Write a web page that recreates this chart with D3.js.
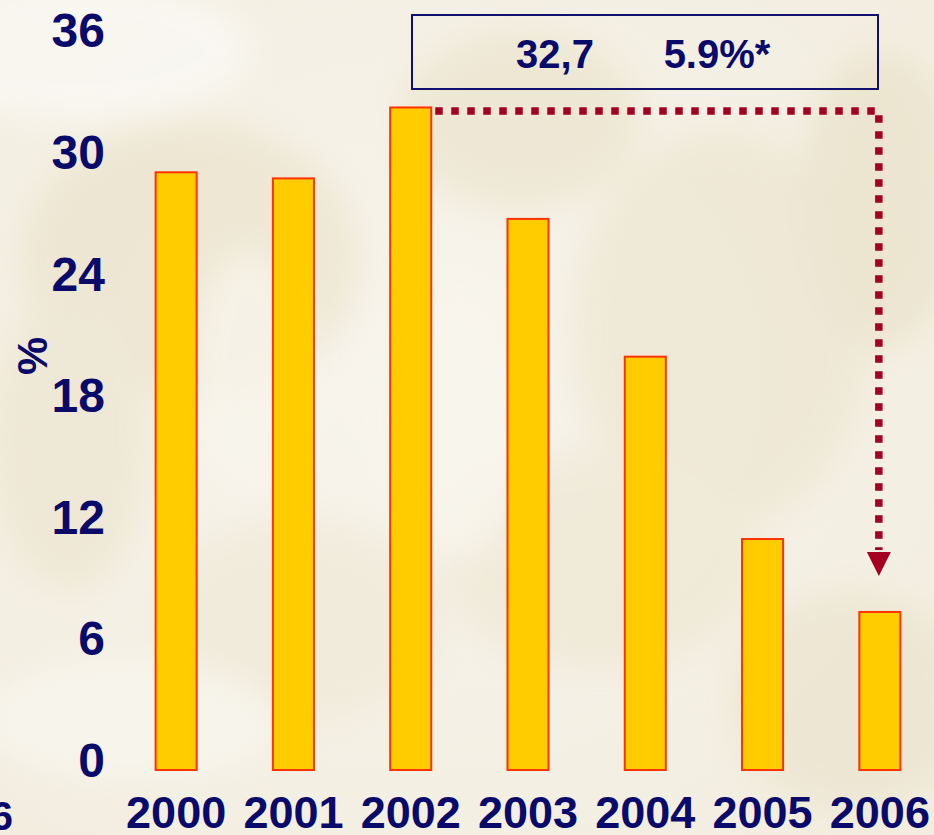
<!DOCTYPE html>
<html>
<head>
<meta charset="utf-8">
<script src="https://cdn.jsdelivr.net/npm/d3@7"></script>
<style>
  html, body { margin: 0; padding: 0; background: #F4F1E6; }
  svg { display: block; }
  text { font-family: "Liberation Sans", Arial, sans-serif; font-weight: bold; }
</style>
</head>
<body>
<svg id="chart" width="934" height="835"></svg>
<script>
// ---- data ----
const years = ["2000", "2001", "2002", "2003", "2004", "2005", "2006"];
const values = [29.5, 29.2, 32.7, 27.2, 20.4, 11.4, 7.8];
const yTicks = [0, 6, 12, 18, 24, 30, 36];
const axisTitle = "%";
const boxLabels = ["32,7", "5.9%*"];
const cornerLabel = "6";

const W = 934, H = 835;
const navy = "#0A0A6B";
const svg = d3.select("#chart");

// ---- background (soft beige texture) ----
const defs = svg.append("defs");
const blur = defs.append("filter").attr("id", "blur").attr("x", "-50%").attr("y", "-50%").attr("width", "200%").attr("height", "200%");
blur.append("feGaussianBlur").attr("stdDeviation", 16);
const rg = defs.append("radialGradient").attr("id", "bgGrad").attr("cx", "0.45").attr("cy", "0.45").attr("r", "0.75");
rg.append("stop").attr("offset", "0").attr("stop-color", "#F7F4EC");
rg.append("stop").attr("offset", "1").attr("stop-color", "#F2EDDF");
svg.append("rect").attr("width", W).attr("height", H).attr("fill", "url(#bgGrad)");

const bgG = svg.append("g").attr("filter", "url(#blur)").attr("opacity", 0.45);
const blobs = [
  {cx: 190, cy: 260, rx: 170, ry: 140, c: "#E6DCBE"},
  {cx: 70, cy: 440, rx: 80, ry: 150, c: "#E8DFC4"},
  {cx: 520, cy: 120, rx: 120, ry: 90, c: "#E6DDC0"},
  {cx: 720, cy: 330, rx: 150, ry: 200, c: "#E9E0C6"},
  {cx: 880, cy: 200, rx: 80, ry: 150, c: "#E4DABB"},
  {cx: 600, cy: 560, rx: 160, ry: 110, c: "#EAE2CA"},
  {cx: 300, cy: 620, rx: 140, ry: 100, c: "#EBE4CE"},
  {cx: 850, cy: 700, rx: 120, ry: 110, c: "#E7DEC3"}
];
bgG.selectAll("ellipse").data(blobs).join("ellipse")
  .attr("cx", d => d.cx).attr("cy", d => d.cy)
  .attr("rx", d => d.rx).attr("ry", d => d.ry)
  .attr("fill", d => d.c);
const lightG = svg.append("g").attr("filter", "url(#blur)").attr("opacity", 0.75);
const lights = [
  {cx: 80, cy: 50, rx: 170, ry: 70, c: "#FAF9F4"},
  {cx: 250, cy: 370, rx: 60, ry: 120, c: "#F8F5EC"},
  {cx: 460, cy: 420, rx: 70, ry: 140, c: "#F9F6EE"},
  {cx: 130, cy: 720, rx: 150, ry: 60, c: "#F8F6EE"}
];
lightG.selectAll("ellipse").data(lights).join("ellipse")
  .attr("cx", d => d.cx).attr("cy", d => d.cy)
  .attr("rx", d => d.rx).attr("ry", d => d.ry)
  .attr("fill", d => d.c);

// ---- scales ----
const x = d3.scaleBand().domain(years).range([117.5, 938.5]).paddingInner(0.65).paddingOuter(0.325);
const y = d3.scaleLinear().domain([0, 36]).range([770, 40.6]);

// ---- y axis (labels only) ----
const yAxis = d3.axisLeft(y).tickValues(yTicks).tickSize(0).tickPadding(0);
const yg = svg.append("g").attr("transform", "translate(105,0)").call(yAxis);
yg.select(".domain").remove();
yg.selectAll("text")
  .attr("x", 0)
  .attr("y", -11)
  .attr("dy", "0.36em")
  .attr("fill", navy).attr("font-size", 48)
  .attr("font-family", "'Liberation Sans', Arial, sans-serif").attr("font-weight", "bold");

// axis title
svg.append("text")
  .attr("transform", "translate(47,356) rotate(-90)")
  .attr("text-anchor", "middle")
  .attr("fill", navy).attr("font-size", 43)
  .text(axisTitle);

// ---- bars ----
svg.append("g").selectAll("rect").data(values).join("rect")
  .attr("x", (d, i) => x(years[i]))
  .attr("y", d => y(d))
  .attr("width", x.bandwidth())
  .attr("height", d => y(0) - y(d))
  .attr("fill", "#FFCC00")
  .attr("stroke", "#FF3300")
  .attr("stroke-width", 2);

// ---- x axis (labels only) ----
const xAxis = d3.axisBottom(x).tickSize(0).tickPadding(0);
const xg = svg.append("g").attr("transform", "translate(0,828)").call(xAxis);
xg.select(".domain").remove();
xg.selectAll("text")
  .attr("y", 0).attr("dy", null)
  .attr("fill", navy).attr("font-size", 45)
  .attr("font-family", "'Liberation Sans', Arial, sans-serif").attr("font-weight", "bold");

// ---- annotation box ----
svg.append("rect")
  .attr("x", 412).attr("y", 15).attr("width", 466).attr("height", 74)
  .attr("fill", "none").attr("stroke", "#10106E").attr("stroke-width", 2);
svg.append("text").attr("x", 555).attr("y", 68).attr("text-anchor", "middle")
  .attr("fill", navy).attr("font-size", 40).text(boxLabels[0]);
svg.append("text").attr("x", 717).attr("y", 68).attr("text-anchor", "middle")
  .attr("fill", navy).attr("font-size", 40).text(boxLabels[1]);

// ---- dotted arrow from 2002 to 2006 ----
const arrowColor = "#A50021";
const yTop = y(values[2]) + 3.5;
const xStart = x("2002") + x.bandwidth() + 4;
const xEnd = x("2006") + x.bandwidth() / 2 - 1;
const tipY = y(values[6]) - 36;
svg.append("path")
  .attr("d", `M${xStart},${yTop} H${xEnd} V${tipY - 26}`)
  .attr("fill", "none").attr("stroke", arrowColor)
  .attr("stroke-width", 7.5).attr("stroke-dasharray", "7.5 8.5");
svg.append("path")
  .attr("d", `M${xEnd - 12},${tipY - 24} L${xEnd + 12},${tipY - 24} L${xEnd},${tipY} Z`)
  .attr("fill", arrowColor);

// ---- cut-off corner label ----
svg.append("text").attr("x", 13).attr("y", 830).attr("text-anchor", "end")
  .attr("fill", navy).attr("font-size", 40).text(cornerLabel);
</script>
</body>
</html>
